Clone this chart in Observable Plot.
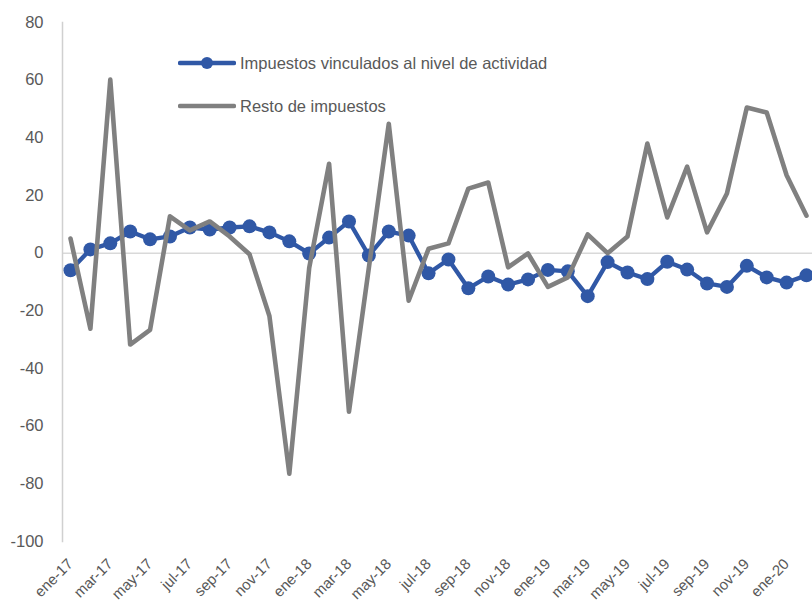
<!DOCTYPE html>
<html>
<head>
<meta charset="utf-8">
<script src="https://cdn.jsdelivr.net/npm/d3@7"></script>
<script src="https://cdn.jsdelivr.net/npm/@observablehq/plot@0.6"></script>
<style>
  html, body { margin: 0; padding: 0; background: #ffffff; }
  #wrap { position: relative; width: 812px; height: 604px; overflow: hidden; font-family: "Liberation Sans", Arial, sans-serif; }
  .legend { position: absolute; left: 178px; font-size: 16.5px; color: #595959; display: flex; align-items: center; white-space: nowrap; }
  .legend svg { display: block; margin-right: 4px; }
</style>
</head>
<body>
<div id="wrap"></div>
<script>
const months = [
  "ene-17","feb-17","mar-17","abr-17","may-17","jun-17","jul-17","ago-17","sep-17","oct-17","nov-17","dic-17",
  "ene-18","feb-18","mar-18","abr-18","may-18","jun-18","jul-18","ago-18","sep-18","oct-18","nov-18","dic-18",
  "ene-19","feb-19","mar-19","abr-19","may-19","jun-19","jul-19","ago-19","sep-19","oct-19","nov-19","dic-19",
  "ene-20","feb-20"
];
const impuestosActividad = [
  -5.9, 1.3, 3.4, 7.5, 4.8, 5.8, 8.9, 8.2, 8.9, 9.3, 7.2, 4.1,
  -0.1, 5.4, 11.0, -0.8, 7.5, 6.1, -7.0, -2.2, -12.2, -8.1, -10.9, -9.1,
  -5.8, -6.3, -14.9, -3.1, -6.7, -9.0, -3.0, -5.7, -10.5, -11.7, -4.4, -8.4,
  -10.2, -7.7
];
const restoImpuestos = [
  5.1, -26.2, 60.2, -31.7, -26.6, 12.8, 7.9, 11.0, 5.8, -0.4, -21.8, -76.5,
  -5.1, 31.0, -55.0, -5.0, 44.9, -16.5, 1.5, 3.4, 22.4, 24.5, -4.9, -0.1,
  -11.7, -8.4, 6.5, 0.0, 5.8, 38.0, 12.4, 30.0, 7.2, 20.7, 50.5, 48.8,
  27.0, 13.0
];
const yTicks = [80, 60, 40, 20, 0, -20, -40, -60, -80, -100];
const xTickLabels = [
  "ene-17","mar-17","may-17","jul-17","sep-17","nov-17","ene-18","mar-18","may-18","jul-18",
  "sep-18","nov-18","ene-19","mar-19","may-19","jul-19","sep-19","nov-19","ene-20"
];
const seriesNames = ["Impuestos vinculados al nivel de actividad", "Resto de impuestos"];
const colors = ["#3058A6", "#808080"];

const blueData = months.map((m, i) => ({month: m, value: impuestosActividad[i]}));
const grayData = months.map((m, i) => ({month: m, value: restoImpuestos[i]}));

const textColor = "#595959";
const font = "Liberation Sans, Arial, sans-serif";

const chart = Plot.plot({
  width: 812,
  height: 604,
  marginLeft: 62,
  marginRight: 0,
  marginTop: 22,
  marginBottom: 63,
  style: {fontFamily: font, background: "#ffffff", overflow: "hidden"},
  x: {type: "point", domain: months, range: [70, 806], padding: 0},
  y: {domain: [-100, 80]},
  marks: [
    Plot.ruleY([0], {stroke: "#D9D9D9", strokeWidth: 1.5}),
    Plot.frame({anchor: "left", stroke: "#D0D0D0", strokeWidth: 1.5}),
    Plot.axisY({ticks: yTicks, tickSize: 0, tickPadding: 19, fontSize: 16.5, fill: textColor, label: null, tickFormat: d => String(d)}),
    Plot.axisX({ticks: xTickLabels, tickRotate: -45, tickSize: 0, tickPadding: 20, fontSize: 15, fill: textColor, label: null}),
    Plot.line(blueData, {x: "month", y: "value", stroke: colors[0], strokeWidth: 4.3, curve: "linear", strokeLinejoin: "round"}),
    Plot.dot(blueData, {x: "month", y: "value", r: 7, fill: colors[0], stroke: "none"}),
    Plot.line(grayData, {x: "month", y: "value", stroke: colors[1], strokeWidth: 4.6, curve: "linear", strokeLinejoin: "round"})
  ]
});

const wrap = document.getElementById("wrap");
wrap.appendChild(chart);

// Legend (inside the plot area, as in the reference)
const legendTops = [52, 95];
seriesNames.forEach((name, i) => {
  const item = document.createElement("div");
  item.className = "legend";
  item.style.top = legendTops[i] + "px";
  const ns = "http://www.w3.org/2000/svg";
  const sw = document.createElementNS(ns, "svg");
  sw.setAttribute("width", 58);
  sw.setAttribute("height", 22);
  const ln = document.createElementNS(ns, "line");
  ln.setAttribute("x1", 2); ln.setAttribute("x2", 56);
  ln.setAttribute("y1", 11); ln.setAttribute("y2", 11);
  ln.setAttribute("stroke", colors[i]);
  ln.setAttribute("stroke-width", 4.5);
  ln.setAttribute("stroke-linecap", "round");
  sw.appendChild(ln);
  if (i === 0) {
    const c = document.createElementNS(ns, "circle");
    c.setAttribute("cx", 29); c.setAttribute("cy", 11); c.setAttribute("r", 6);
    c.setAttribute("fill", colors[i]);
    sw.appendChild(c);
  }
  item.appendChild(sw);
  const t = document.createElement("span");
  t.textContent = name;
  item.appendChild(t);
  wrap.appendChild(item);
});
</script>
</body>
</html>
